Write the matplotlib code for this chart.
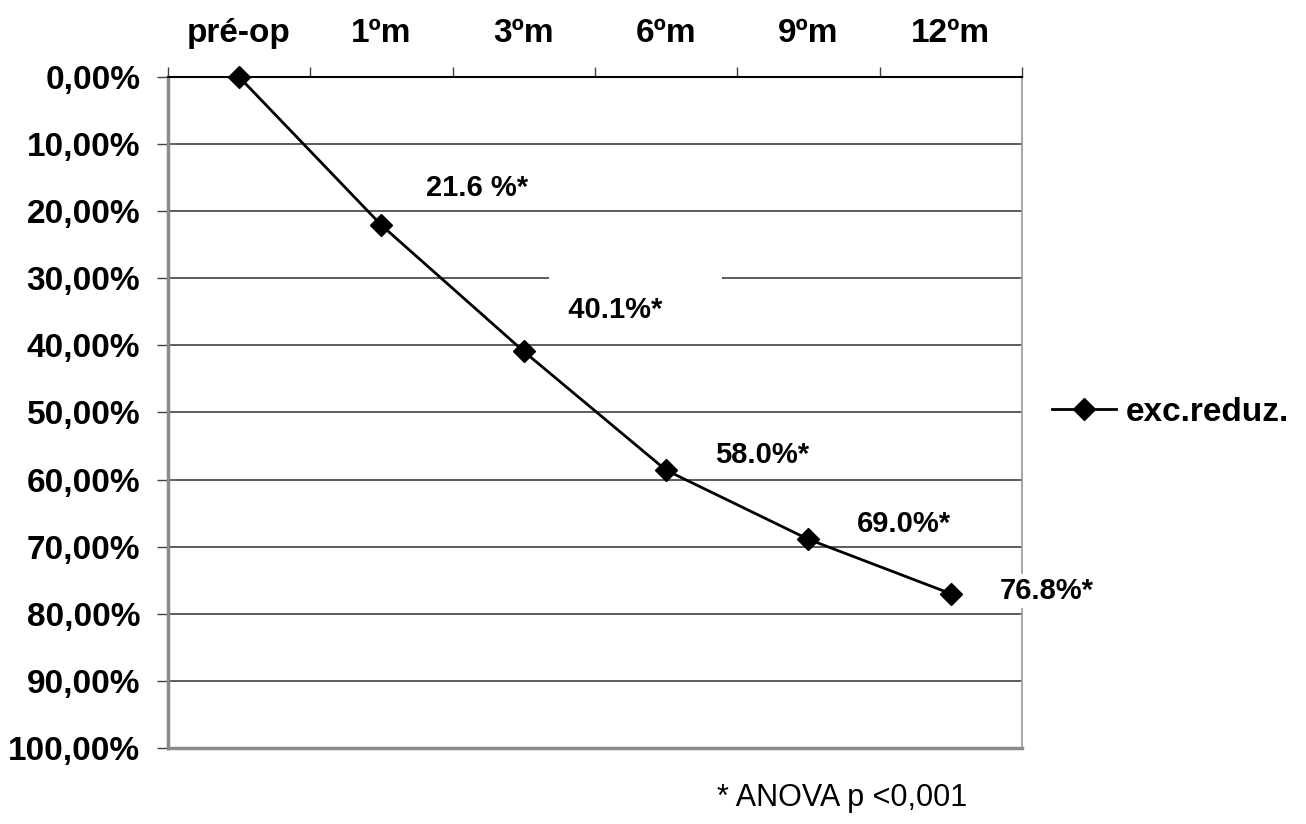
import numpy as np
import matplotlib
matplotlib.use('Agg')
import matplotlib.pyplot as plt

plt.rcParams['font.family'] = ['Liberation Sans', 'DejaVu Sans']

# dados
categorias = ['pré-op', '1ºm', '3ºm', '6ºm', '9ºm', '12ºm']
exc_reduz = [0.0, 22.1, 40.9, 58.6, 68.9, 77.0]
rotulos = ['', '21.6 %*', '40.1%*', '58.0%*', '69.0%*', '76.8%*']
y_ticks = np.arange(0, 101, 10)

fig = plt.figure(figsize=(13.06, 8.24), dpi=100, facecolor='white')
ax = fig.add_axes([0.1286, 0.0922, 0.6539, 0.8144])

x = np.arange(len(categorias))
ax.plot(x, exc_reduz, color='black', lw=2, marker='D', markersize=11,
        label='exc.reduz.', zorder=5, clip_on=False)

ax.set_xlim(-0.5, len(categorias) - 0.5)
ax.set_ylim(100, 0)

# eixo x no topo
ax.xaxis.set_ticks_position('top')
ax.set_xticks(x)
ax.set_xticklabels(categorias, fontsize=24, fontweight='bold')
ax.set_xticks(np.arange(-0.5, len(categorias), 1), minor=True)
ax.tick_params(axis='x', which='major', length=0, pad=20)
ax.tick_params(axis='x', which='minor', length=7, width=1, color='#404040', direction='out')

ax.set_yticks(y_ticks)
ax.set_yticklabels([f'{v:.2f}%'.replace('.', ',') for v in y_ticks],
                   fontsize=24, fontweight='bold')
ax.tick_params(axis='y', length=8, width=1, color='#404040', direction='out', pad=12)

ax.grid(axis='y', color='#303030', lw=1.1, zorder=0)
ax.set_axisbelow(True)

ax.spines['left'].set_color('#8a8a8a')
ax.spines['left'].set_linewidth(2.5)
ax.spines['bottom'].set_color('#8a8a8a')
ax.spines['bottom'].set_linewidth(2.5)
ax.spines['right'].set_color('#9a9a9a')
ax.spines['right'].set_linewidth(1.2)
ax.spines['top'].set_color('black')
ax.spines['top'].set_linewidth(1.5)

# rótulos dos pontos (caixas de texto brancas como no original)
caixa = dict(boxstyle='square,pad=0.1', fc='white', ec='none')
for i, (xv, yv, txt) in enumerate(zip(x, exc_reduz, rotulos)):
    if not txt:
        continue
    if i == 2:
        # caixa maior, apaga parte da grade de 30%
        ax.annotate('\n  ' + txt + '       ', (xv, yv), xytext=(20, 20),
                    textcoords='offset points', ha='left', va='bottom',
                    fontsize=21, fontweight='bold', linespacing=0.9,
                    annotation_clip=False, zorder=4, bbox=caixa)
        continue
    dy = {1: 27, 3: 11, 4: 11, 5: 2}[i]
    ax.annotate(txt, (xv, yv), xytext=(69, dy), textcoords='offset points',
                ha='center', va='center', fontsize=21, fontweight='bold',
                annotation_clip=False, zorder=4, bbox=caixa)

leg = ax.legend(loc='center left', bbox_to_anchor=(1.02, 0.5), frameon=False,
                prop={'size': 24, 'weight': 'bold'}, handlelength=1.9,
                handletextpad=0.3, borderaxespad=0)

fig.text(842 / 1306, 1 - 798 / 824, '* ANOVA p <0,001', ha='center', va='center',
         fontsize=22)

plt.savefig('out.png', dpi=100, facecolor='white')
plt.close()
